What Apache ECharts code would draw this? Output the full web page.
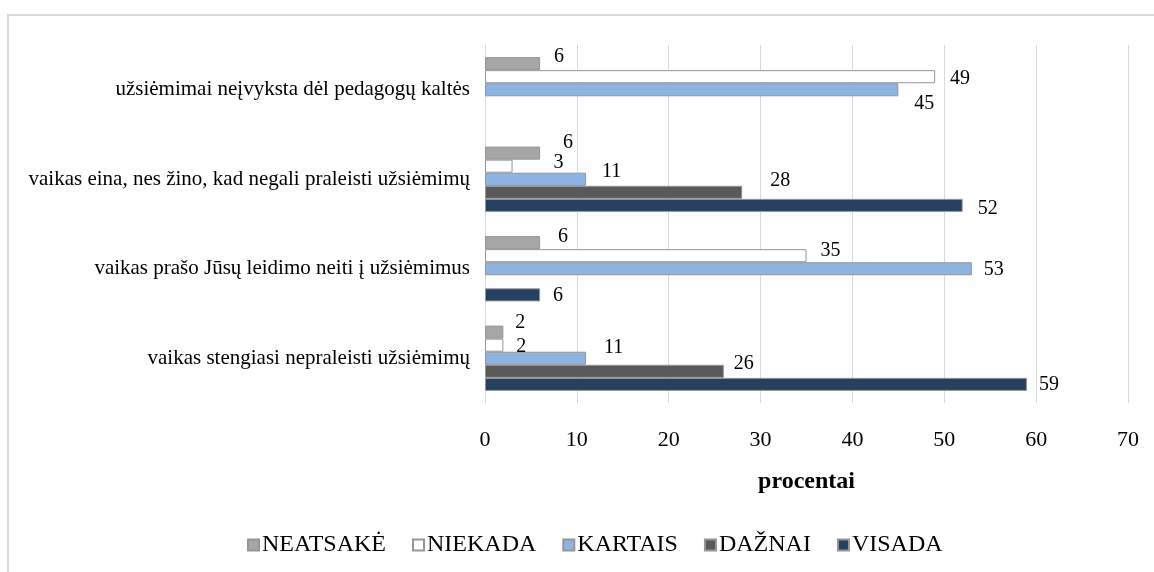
<!DOCTYPE html>
<html>
<head>
<meta charset="utf-8">
<script src="https://cdn.jsdelivr.net/npm/echarts@6/dist/echarts.min.js"></script>
<style>
html,body{margin:0;padding:0;background:#fff;}
#chart{width:1154px;height:572px;}
</style>
</head>
<body>
<div id="chart"></div>
<script>
// ---- data ----
var categories = [
  'užsiėmimai neįvyksta dėl pedagogų kaltės',
  'vaikas eina, nes žino, kad negali praleisti užsiėmimų',
  'vaikas prašo Jūsų leidimo neiti į užsiėmimus',
  'vaikas stengiasi nepraleisti užsiėmimų'
];
var seriesNames = ['NEATSAKĖ', 'NIEKADA', 'KARTAIS', 'DAŽNAI', 'VISADA'];
var neatsake = [6, 6, 6, 2];
var niekada  = [49, 3, 35, 2];
var kartais  = [45, 11, 53, 11];
var daznai   = [null, 28, null, 26];
var visada   = [null, 52, 6, 59];
var xTicks = [0, 10, 20, 30, 40, 50, 60, 70];

// ---- styling (kept separate from data) ----
var colors = ['#a6a6a6', '#ffffff', '#8eb4e3', '#595959', '#254061'];
// per-label nudges [dx, dy] mimicking the reference's label placement
var labelNudge = [
  [[9,-7],[18,-10],[13,-6],[7,-9]],
  [[10,2],[36,-3],[9,-5],[8,2]],
  [[11,14],[11,-8],[7,1],[13,-11]],
  [[0,0],[23,-12],[0,0],[5,-8]],
  [[0,0],[10,3],[8,1],[7,0]]
];
var FONT = 'Liberation Serif';
var values = [neatsake, niekada, kartais, daznai, visada];

var series = seriesNames.map(function (name, si) {
  return {
    name: name,
    type: 'bar',
    barGap: '0%',
    barCategoryGap: '27%',
    itemStyle: { color: colors[si], borderColor: '#969696', borderWidth: 1 },
    data: values[si].map(function (v, ci) {
      if (v === null) return '-';
      return {
        value: v,
        label: { offset: labelNudge[si][ci] }
      };
    }),
    label: {
      show: true,
      position: 'right',
      distance: 5,
      color: '#000',
      fontFamily: FONT,
      fontSize: 20
    }
  };
});

var chart = echarts.init(document.getElementById('chart'));
chart.setOption({
  animation: false,
  backgroundColor: '#fff',
  graphic: [{
    type: 'rect',
    z: -10,
    shape: { x: 8, y: 15, width: 1400, height: 800 },
    style: { fill: 'none', stroke: '#d9d9d9', lineWidth: 2 }
  }],
  grid: { left: 485, right: 26, top: 45, bottom: 169, containLabel: false },
  legend: {
    data: seriesNames,
    left: 242,
    top: 528,
    icon: 'rect',
    itemWidth: 11,
    itemHeight: 11,
    itemGap: 26,
    textStyle: { fontFamily: FONT, fontSize: 24, color: '#000', padding: [0, 0, 0, -2] }
  },
  xAxis: {
    type: 'value',
    min: xTicks[0],
    max: xTicks[xTicks.length - 1],
    interval: 10,
    name: 'procentai',
    nameLocation: 'middle',
    nameGap: 67,
    nameTextStyle: { fontFamily: FONT, fontSize: 24, fontWeight: 'bold', color: '#000' },
    axisLine: { show: false },
    axisTick: { show: false },
    axisLabel: { fontFamily: FONT, fontSize: 22, color: '#000', margin: 26 },
    splitLine: { show: true, lineStyle: { color: '#d9d9d9', width: 1 } }
  },
  yAxis: {
    type: 'category',
    inverse: true,
    data: categories,
    axisLine: { show: true, lineStyle: { color: '#d9d9d9' } },
    axisTick: { show: false },
    axisLabel: { fontFamily: FONT, fontSize: 21, color: '#000', margin: 15 }
  },
  series: series
});
</script>
</body>
</html>
